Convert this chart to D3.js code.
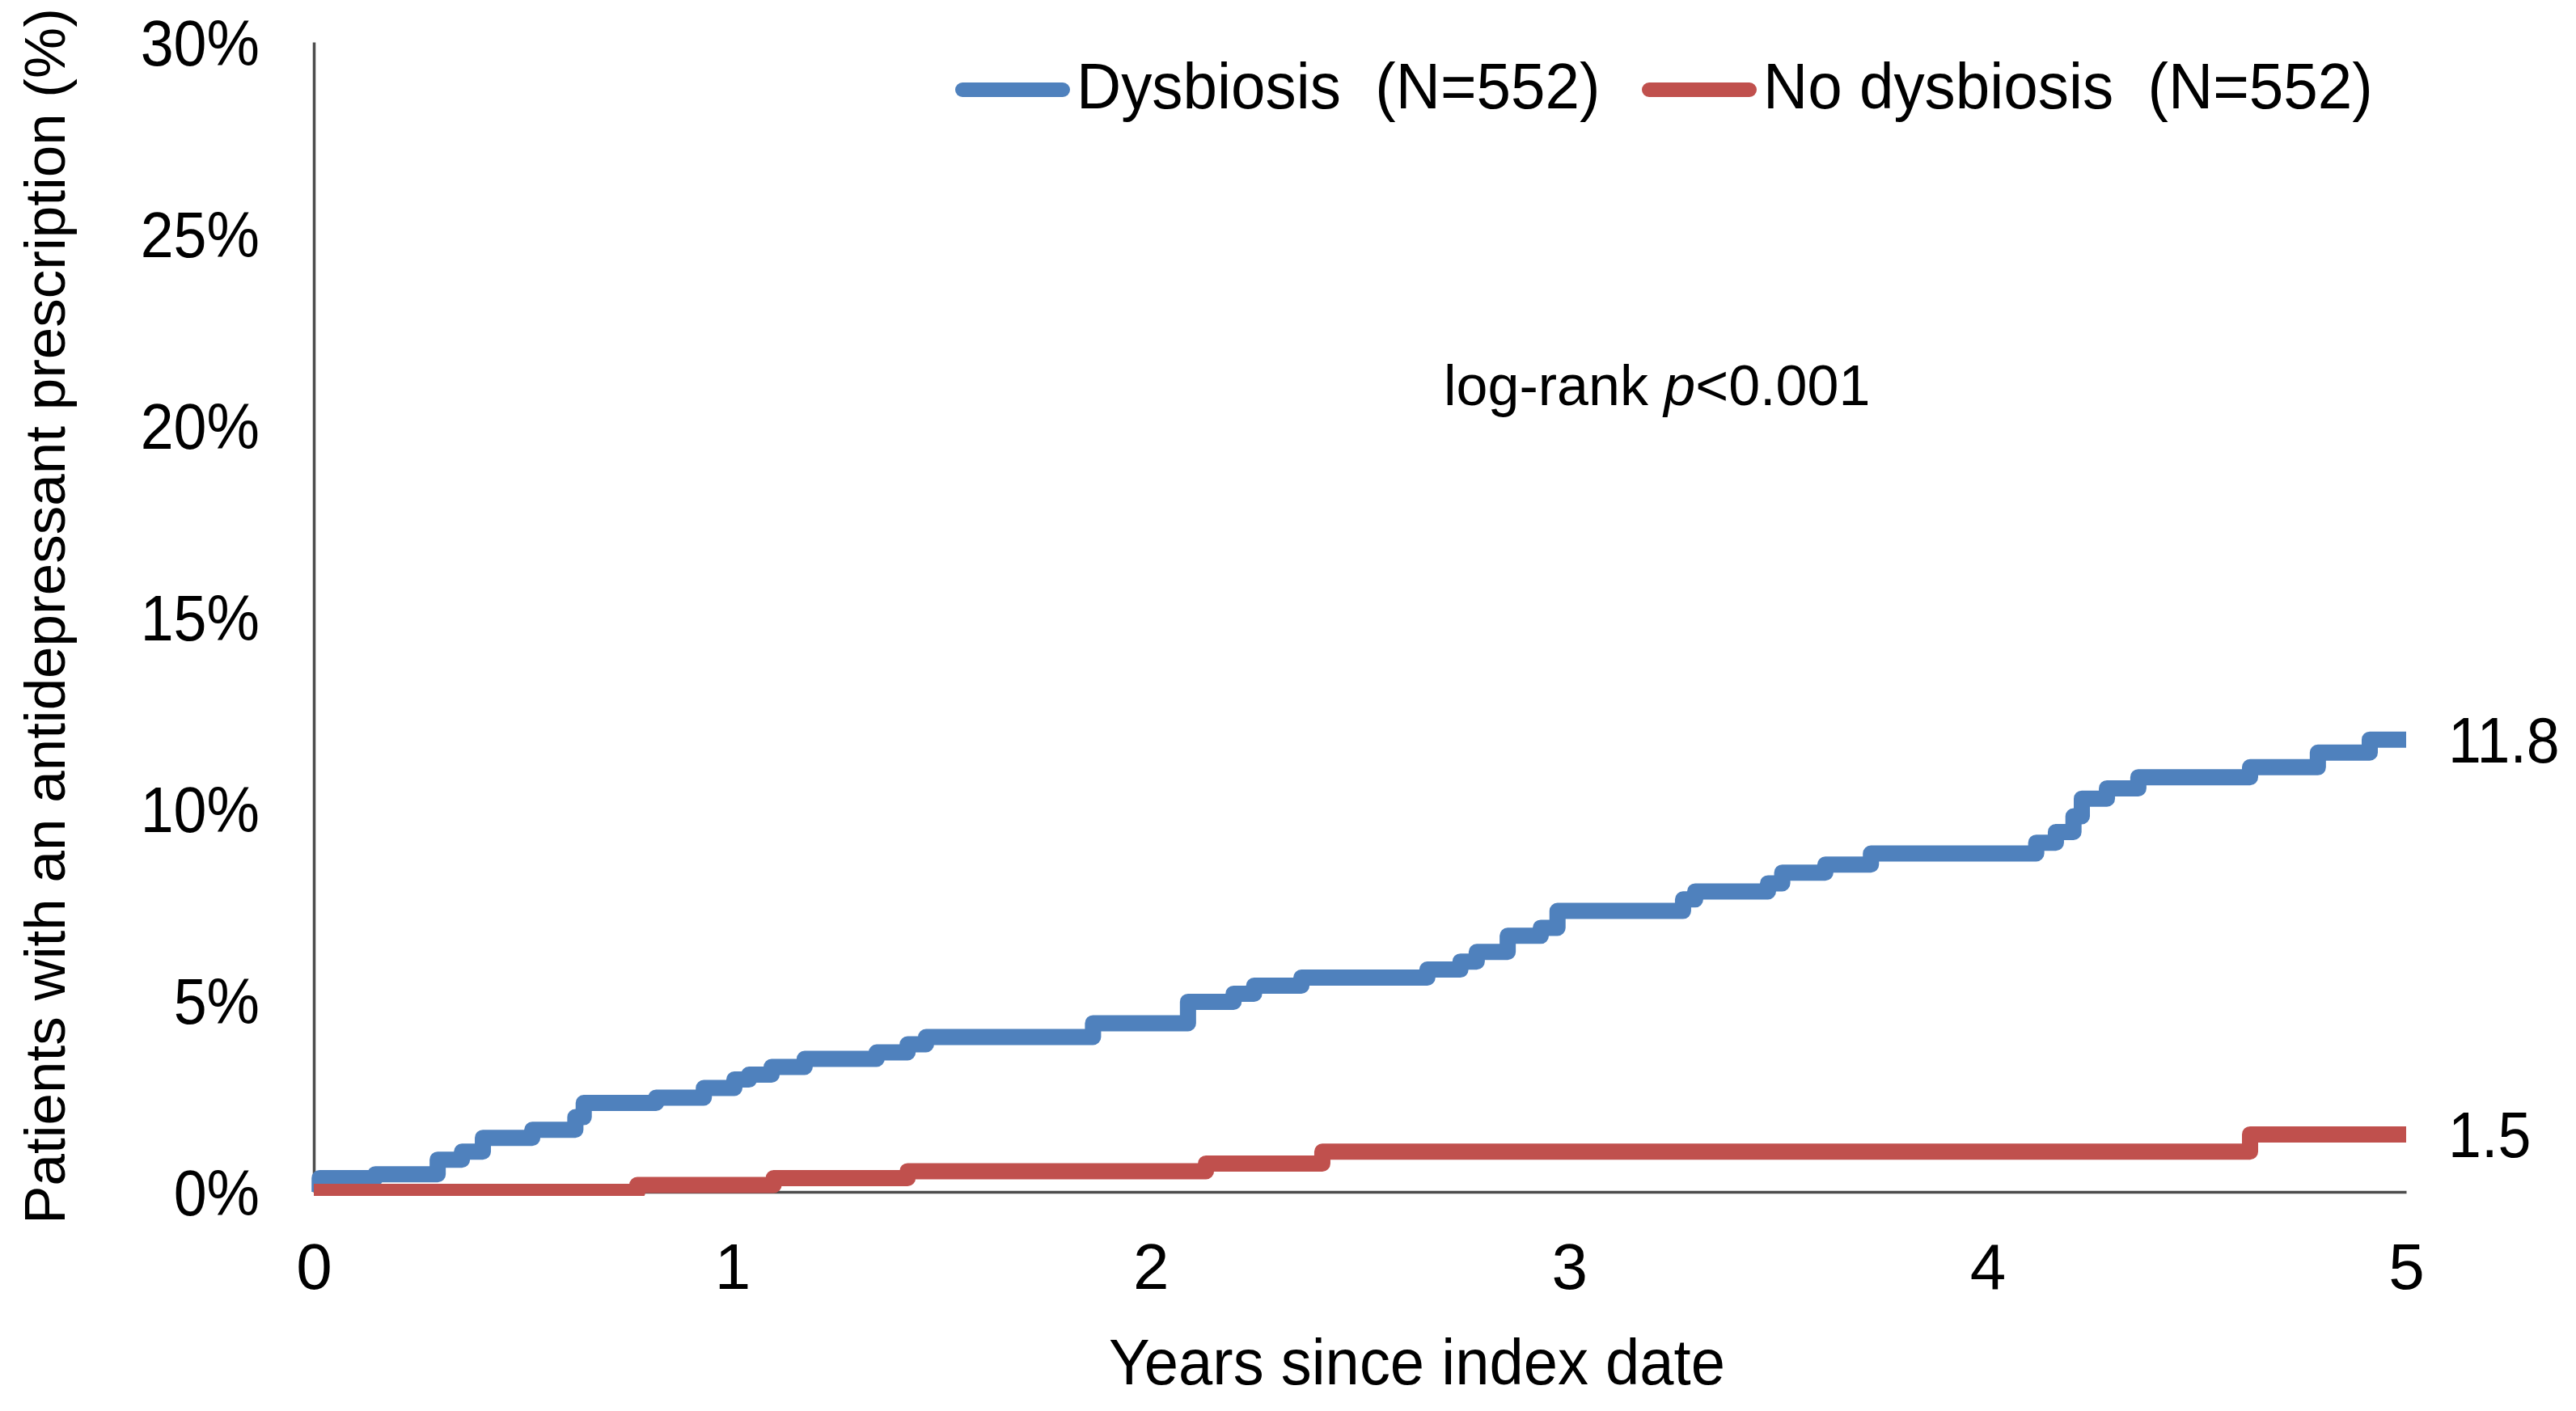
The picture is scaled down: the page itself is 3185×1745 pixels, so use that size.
<!DOCTYPE html>
<html>
<head>
<meta charset="utf-8">
<script src="https://cdn.jsdelivr.net/npm/d3@7"></script>
<style>
body { margin: 0; background: #fff; }
text { font-family: "Liberation Sans", Arial, sans-serif; fill: #000; }
</style>
</head>
<body>
<svg id="chart" width="3185" height="1745"></svg>
<script>

// cumulative % with an antidepressant prescription
var dysbiosisYears = [0, 0.014, 0.147, 0.296, 0.354, 0.404, 0.522, 0.625, 0.645, 0.818, 0.932, 1.005, 1.04, 1.094, 1.173, 1.345, 1.419, 1.463,
                      1.862, 2.089, 2.198, 2.247, 2.36, 2.661, 2.74, 2.779, 2.853, 2.932, 2.972, 3.272, 3.301, 3.475, 3.509, 3.612, 3.721,
                      4.116, 4.163, 4.205, 4.225, 4.285, 4.36, 4.627, 4.789, 4.913, 5.0];
var dysbiosisPct   = [0, 0.36, 0.46, 0.84, 1.05, 1.41, 1.62, 1.95, 2.32, 2.46, 2.71, 2.93, 3.06, 3.26, 3.47, 3.64, 3.85, 4.04,
                      4.40, 4.96, 5.17, 5.38, 5.59, 5.80, 6.01, 6.26, 6.68, 6.89, 7.33, 7.63, 7.84, 8.05, 8.33, 8.54, 8.83,
                      9.11, 9.39, 9.8, 10.26, 10.53, 10.82, 11.08, 11.46, 11.8, 11.8];

var noDysbiosisYears = [0, 0.773, 1.099, 1.419, 2.132, 2.41, 4.627, 5.0];
var noDysbiosisPct   = [0, 0.18, 0.36, 0.54, 0.74, 1.05, 1.5, 1.5];

var yTickValues = [0, 5, 10, 15, 20, 25, 30];
var xTickValues = [0, 1, 2, 3, 4, 5];
var seriesLabels = ["Dysbiosis  (N=552)", "No dysbiosis  (N=552)"];
var seriesColors = ["#4F81BD", "#C0504D"];
var endLabels = ["11.8", "1.5"];

var plot = {left: 388, right: 2975, top: 52, bottom: 1474};
var svg = d3.select("#chart");

var x = d3.scaleLinear().domain([0, 5]).range([plot.left, plot.right]);
var y = d3.scaleLinear().domain([0, 30]).range([plot.bottom, plot.top]);

// axes (no tick marks, just the two lines)
var yAxis = svg.append("g")
    .attr("transform", "translate(" + plot.left + ",0)")
    .call(d3.axisLeft(y).tickValues(yTickValues).tickSize(0).tickSizeOuter(0)
        .tickFormat(function(d){ return d + "%"; }));
yAxis.select(".domain").attr("stroke", "#4d4d4d").attr("stroke-width", 3.5);
yAxis.selectAll("text")
    .attr("x", null).attr("dy", "0.35em")
    .attr("transform", "translate(-67,0) scale(0.92,1)")
    .style("font-size", "80px")
    .style("font-family", "Liberation Sans, Arial, sans-serif");

var xAxis = svg.append("g")
    .attr("transform", "translate(0," + plot.bottom + ")")
    .call(d3.axisBottom(x).tickValues(xTickValues).tickSize(0).tickSizeOuter(0).tickPadding(63)
        .tickFormat(d3.format("d")));
xAxis.select(".domain").attr("stroke", "#4d4d4d").attr("stroke-width", 3.5);
xAxis.selectAll("text")
    .style("font-size", "80px")
    .style("font-family", "Liberation Sans, Arial, sans-serif");

// axis titles
svg.append("text")
    .attr("transform", "translate(80,762) rotate(-90)")
    .attr("text-anchor", "middle")
    .style("font-size", "71px")
    .text("Patients with an antidepressant prescription (%)");

svg.append("text")
    .attr("transform", "translate(1752,1712) scale(0.95,1)")
    .attr("text-anchor", "middle")
    .style("font-size", "80px")
    .text("Years since index date");

// step curves
svg.append("clipPath").attr("id", "plotClip")
  .append("rect")
    .attr("x", plot.left - 20).attr("y", 0)
    .attr("width", plot.right - plot.left + 40)
    .attr("height", plot.bottom + 5);

var stepLine = d3.line()
    .x(function(d){ return x(d[0]); })
    .y(function(d){ return y(d[1]); })
    .curve(d3.curveStepAfter);

var series = [
    d3.zip(dysbiosisYears, dysbiosisPct),
    d3.zip(noDysbiosisYears, noDysbiosisPct)
];

svg.append("g").attr("clip-path", "url(#plotClip)")
  .selectAll("path")
    .data(series)
    .enter()
    .append("path")
    .attr("d", stepLine)
    .attr("fill", "none")
    .attr("stroke", function(d, i){ return seriesColors[i]; })
    .attr("stroke-width", 20)
    .attr("stroke-linejoin", "round");

// value labels at the end of each curve
svg.selectAll("text.endLabel")
    .data(series)
    .enter()
    .append("text")
    .attr("class", "endLabel")
    .attr("transform", function(d){
        var last = d[d.length - 1];
        return "translate(" + (x(last[0]) + 52) + "," + (y(last[1]) + 28) + ") scale(0.92,1)";
    })
    .style("font-size", "80px")
    .text(function(d, i){ return endLabels[i]; });

// legend
var legendX = [1182, 2031];
var legend = svg.selectAll("g.legendItem")
    .data(seriesLabels)
    .enter()
    .append("g")
    .attr("class", "legendItem")
    .attr("transform", function(d, i){ return "translate(" + legendX[i] + ",111)"; });

legend.append("line")
    .attr("x1", 8).attr("x2", 132)
    .attr("stroke", function(d, i){ return seriesColors[i]; })
    .attr("stroke-width", 18)
    .attr("stroke-linecap", "round");

legend.append("text")
    .attr("transform", "translate(149,23) scale(0.955,1)")
    .style("font-size", "80px")
    .style("white-space", "pre")
    .text(function(d){ return d; });

// log-rank annotation
var note = svg.append("text")
    .attr("x", 1785).attr("y", 501)
    .style("font-size", "70px");
note.append("tspan").text("log-rank ");
note.append("tspan").style("font-style", "italic").text("p");
note.append("tspan").text("<0.001");

</script>
</body>
</html>
